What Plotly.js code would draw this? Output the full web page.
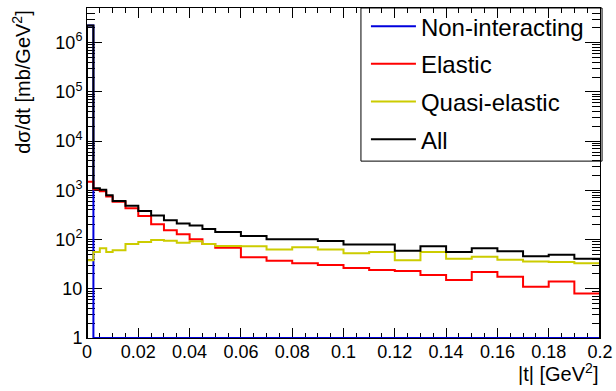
<!DOCTYPE html>
<html>
<head>
<meta charset="utf-8">
<script src="https://cdn.plot.ly/plotly-3.0.1.min.js"></script>
<style>
  html, body { margin: 0; padding: 0; background: #ffffff; }
  #chart { width: 616px; height: 391px; }
</style>
</head>
<body>
<div id="chart"></div>
<script>
// Bin edges of |t| [GeV^2]
const binEdges = [0, 0.0025, 0.005, 0.0075, 0.01, 0.015, 0.02, 0.025, 0.03, 0.035, 0.04, 0.045, 0.05,
  0.06, 0.07, 0.08, 0.09, 0.10, 0.11, 0.12, 0.13, 0.14, 0.15, 0.16, 0.17, 0.18, 0.19, 0.20];

// dσ/dt [mb/GeV^2] per bin
const nonInteracting = [2.23e6, 0, 0, 0, 0, 0, 0, 0, 0, 0, 0, 0, 0,
  0, 0, 0, 0, 0, 0, 0, 0, 0, 0, 0, 0, 0, 0];
const elastic = [1490, 1057, 964, 753, 589, 432, 300, 205, 155, 129, 101, 81, 68,
  44, 37, 33, 30.5, 26.5, 24, 23, 19, 15, 22, 17.5, 11, 14, 8];
const quasiElastic = [38, 56, 67, 56, 61, 81, 89, 98, 95, 86, 92, 81, 74,
  73, 63, 70, 63, 53, 56, 38, 56, 41, 45, 39, 36, 35, 33];
const all = [2.23e6, 1107, 1028, 800, 605, 489, 380, 308, 247, 212, 193, 165, 142,
  118, 101, 101, 94, 79, 79, 59, 73, 56, 67, 58, 46, 49, 41];

const seriesNames = ['Non-interacting', 'Elastic', 'Quasi-elastic', 'All'];
const seriesColors = ['#0000dd', '#ff0000', '#cccc00', '#000000'];

const xTickVals = [0, 0.02, 0.04, 0.06, 0.08, 0.1, 0.12, 0.14, 0.16, 0.18, 0.2];
const xTickText = ['0', '0.02', '0.04', '0.06', '0.08', '0.1', '0.12', '0.14', '0.16', '0.18', '0.2'];
const yTickVals = [1, 10, 100, 1000, 10000, 100000, 1000000];
const yTickText = ['1', '10', '10<sup>2</sup>', '10<sup>3</sup>', '10<sup>4</sup>', '10<sup>5</sup>', '10<sup>6</sup>'];

const yMin = 1;            // log axis floor (empty bins drawn on it, as ROOT does)
const yMaxLog = 6.706;

function histTrace(vals, name, color) {
  // step outline: start and end at the axis floor, hold each bin value across the bin
  const x = [binEdges[0]];
  const y = [yMin];
  for (let i = 0; i < vals.length; i++) {
    x.push(binEdges[i]);
    y.push(vals[i] > yMin ? vals[i] : yMin);
  }
  x.push(binEdges[binEdges.length - 1]);
  y.push(vals[vals.length - 1] > yMin ? vals[vals.length - 1] : yMin);
  x.push(binEdges[binEdges.length - 1]);
  y.push(yMin);
  return {
    type: 'scatter', mode: 'lines', x: x, y: y, name: name,
    legendgroup: name,
    line: { color: color, width: 2, shape: 'hv' },
    hoverinfo: 'skip'
  };
}

const data = [
  histTrace(nonInteracting, seriesNames[0], seriesColors[0]),
  histTrace(elastic, seriesNames[1], seriesColors[1]),
  histTrace(quasiElastic, seriesNames[2], seriesColors[2]),
  histTrace(all, seriesNames[3], seriesColors[3])
];

const font = 'Liberation Sans, Arial, Helvetica, sans-serif';

// legend frame (paper fractions of the plot area)
const legendX0 = 0.534, legendX1 = 1.004, legendY0 = 0.536, legendY1 = 1.0;

const layout = {
  width: 616, height: 391,
  margin: { l: 87, r: 16, t: 4, b: 53, pad: 0 },
  paper_bgcolor: '#ffffff', plot_bgcolor: '#ffffff',
  font: { family: font, size: 18, color: '#000000' },
  showlegend: true,
  legend: {
    x: legendX0, y: 1.012, xanchor: 'left', yanchor: 'top',
    bgcolor: 'rgba(0,0,0,0)', borderwidth: 0,
    font: { family: font, size: 24, color: '#000000' },
    tracegroupgap: 3.5, itemwidth: 45, indentation: 5,
    traceorder: 'grouped'
  },
  shapes: [
    {
      type: 'rect', xref: 'paper', yref: 'paper', layer: 'below',
      x0: legendX0, x1: legendX1, y0: legendY0, y1: legendY1,
      fillcolor: '#ffffff', line: { color: '#000000', width: 1 }
    }
  ],
  xaxis: {
    range: [0, 0.2], type: 'linear',
    tickmode: 'array', tickvals: xTickVals, ticktext: xTickText,
    ticks: 'inside', ticklen: 10, tickwidth: 1, tickcolor: '#000000',
    showline: true, linecolor: '#000000', linewidth: 1, mirror: 'ticks',
    showgrid: false, zeroline: false,
    layer: 'below traces',
    ticklabelstandoff: -3,
    tickfont: { family: font, size: 18, color: '#000000' },
    minor: { dtick: 0.005, tick0: 0, ticks: 'inside', ticklen: 5, tickwidth: 1, tickcolor: '#000000', showgrid: false }
  },
  yaxis: {
    type: 'log', range: [0, yMaxLog],
    tickmode: 'array', tickvals: yTickVals, ticktext: yTickText,
    ticks: 'inside', ticklen: 15, tickwidth: 1, tickcolor: '#000000',
    showline: true, linecolor: '#000000', linewidth: 1, mirror: 'ticks',
    showgrid: false, zeroline: false,
    layer: 'below traces',
    tickfont: { family: font, size: 18, color: '#000000' },
    minor: { dtick: 'D1', ticks: 'inside', ticklen: 8, tickwidth: 1, tickcolor: '#000000', showgrid: false }
  },
  annotations: [
    {
      text: 'dσ/dt [mb/GeV<sup>2</sup>]', textangle: -90,
      xref: 'paper', yref: 'paper', x: -0.129, y: 1, xanchor: 'center', yanchor: 'top',
      showarrow: false, font: { family: font, size: 20, color: '#000000' }
    },
    {
      text: '|t| [GeV<sup>2</sup>]',
      xref: 'paper', yref: 'paper', x: 1, y: -0.106, xanchor: 'right', yanchor: 'middle',
      showarrow: false, font: { family: font, size: 20, color: '#000000' }
    }
  ]
};

Plotly.newPlot('chart', data, layout, { staticPlot: true, displayModeBar: false });
</script>
</body>
</html>
